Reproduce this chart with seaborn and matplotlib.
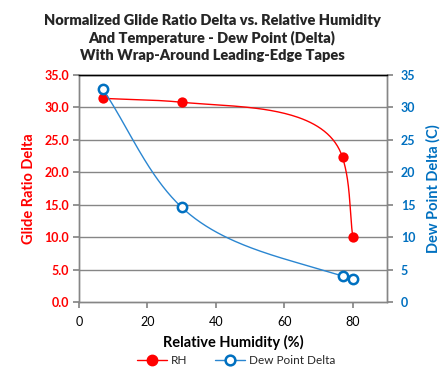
import numpy as np
import pandas as pd
import matplotlib
matplotlib.use("Agg")
import matplotlib.pyplot as plt
from matplotlib.lines import Line2D
import seaborn as sns

# Values
humidity = [7, 30, 77, 80]
glide_ratio_delta = [31.4, 30.8, 22.3, 10.0]
dew_point_delta = [32.8, 14.6, 4.0, 3.5]
x_ticks = [0, 20, 40, 60, 80]
y_ticks = [0, 5, 10, 15, 20, 25, 30, 35]

RED = "#FF0000"
BLUE = "#0070C0"
BLUE_LINE = "#2A86D1"

sns.set_theme(style="white")
plt.rcParams['font.family'] = ['Lato', 'DejaVu Sans']


def smooth(xs, ys, sx, sy, n=80):
    # smoothed line like Excel's: cubic Bezier segments through the points,
    # tangents computed in screen scale and weighted toward the shorter segment
    p = np.column_stack([np.array(xs, float) * sx, np.array(ys, float) * sy])
    k = len(p)
    seg = np.diff(p, axis=0)
    lens = np.linalg.norm(seg, axis=1)
    unit = seg / lens[:, None]
    tang = np.zeros_like(p)
    tang[0] = unit[0]
    tang[-1] = unit[-1]
    for i in range(1, k - 1):
        t = unit[i - 1] * lens[i] ** 2 + unit[i] * lens[i - 1] ** 2
        tang[i] = t / np.linalg.norm(t)
    t = np.linspace(0, 1, n)[:, None]
    out = []
    for i in range(k - 1):
        p1, p2 = p[i], p[i + 1]
        c1 = p1 + tang[i] * lens[i] / 3
        c2 = p2 - tang[i + 1] * lens[i] / 3
        out.append(((1 - t) ** 3) * p1 + 3 * ((1 - t) ** 2) * t * c1
                   + 3 * (1 - t) * t ** 2 * c2 + t ** 3 * p2)
    out = np.vstack(out)
    return out[:, 0] / sx, out[:, 1] / sy


df = pd.DataFrame({'rh': humidity, 'glide': glide_ratio_delta, 'dew': dew_point_delta})

fig = plt.figure(figsize=(4.46, 3.72), dpi=100)
ax = fig.add_axes([79 / 446, 1 - 302 / 372, 308 / 446, 227 / 372])
ax2 = ax.twinx()

xmin, xmax, ymin, ymax = 0, 90, 0, 35
sx = 308 / (xmax - xmin)
sy = 227 / (ymax - ymin)

for y in y_ticks[1:-1]:
    ax.axhline(y, color="#868686", lw=1.0, zorder=0)

gx, gy = smooth(df['rh'], df['glide'], sx, sy)
ax.plot(gx, gy, color=RED, lw=1.0, zorder=2)
sns.scatterplot(data=df, x='rh', y='glide', ax=ax, color=RED, s=55,
                edgecolor=RED, linewidth=0, zorder=3, legend=False)

dx, dy = smooth(df['rh'], df['dew'], sx, sy)
ax2.plot(dx, dy, color=BLUE_LINE, lw=1.0, zorder=2)
sns.scatterplot(data=df, x='rh', y='dew', ax=ax2, facecolor='white', s=45,
                edgecolor=BLUE, linewidth=1.8, zorder=3, legend=False)

ax.set_xlim(xmin, xmax)
ax.set_ylim(ymin, ymax)
ax2.set_ylim(ymin, ymax)
ax.set_xticks(x_ticks)
ax.set_yticks(y_ticks)
ax2.set_yticks(y_ticks)
ax.set_yticklabels([f"{v:.1f}" for v in y_ticks])
ax2.set_yticklabels([str(v) for v in y_ticks])

for a in (ax, ax2):
    for side in ('left', 'right', 'bottom'):
        a.spines[side].set_color("#868686")
        a.spines[side].set_linewidth(1.0)
    a.spines['top'].set_color("black")
    a.spines['top'].set_linewidth(1.0)

ax.tick_params(axis='x', direction='out', length=4, color="#868686", labelsize=9,
               labelcolor='black', bottom=True, pad=6)
ax.tick_params(axis='y', direction='out', length=4, color="#868686", labelsize=9,
               labelcolor=RED, left=True, pad=3)
ax2.tick_params(axis='y', direction='out', length=4, color="#868686", labelsize=9,
                labelcolor=BLUE, right=True, pad=6)
for lbl in ax.get_yticklabels():
    lbl.set_fontweight('bold')
for lbl in ax2.get_yticklabels():
    lbl.set_fontweight('bold')

ax.set_xlabel("Relative Humidity (%)", fontsize=10.5, fontweight='bold', color='black', labelpad=5)
ax.set_ylabel("Glide Ratio Delta", fontsize=10.5, fontweight='bold', color=RED, labelpad=6)
ax2.set_ylabel("Dew Point Delta (C)", fontsize=10.5, fontweight='bold', color=BLUE, labelpad=8)

fig.text(212 / 446, 1 - 38 / 372,
         "Normalized Glide Ratio Delta vs. Relative Humidity\n"
         "And Temperature - Dew Point (Delta)\n"
         "With Wrap-Around Leading-Edge Tapes",
         ha='center', va='center', fontsize=10.5, fontweight='heavy', linespacing=1.35)

handles = [
    Line2D([0], [0], color=RED, lw=1.0, marker='o', markersize=7.5,
           markerfacecolor=RED, markeredgecolor=RED),
    Line2D([0], [0], color=BLUE_LINE, lw=1.0, marker='o', markersize=7,
           markerfacecolor='white', markeredgecolor=BLUE, markeredgewidth=1.8),
]
fig.legend(handles, ["RH", "Dew Point Delta"], loc='center',
           bbox_to_anchor=(236 / 446, 1 - 361 / 372), ncol=2, frameon=False,
           fontsize=8.5, handlelength=2.6, columnspacing=2.3, handletextpad=0.3)

fig.savefig("out.png", dpi=100)
